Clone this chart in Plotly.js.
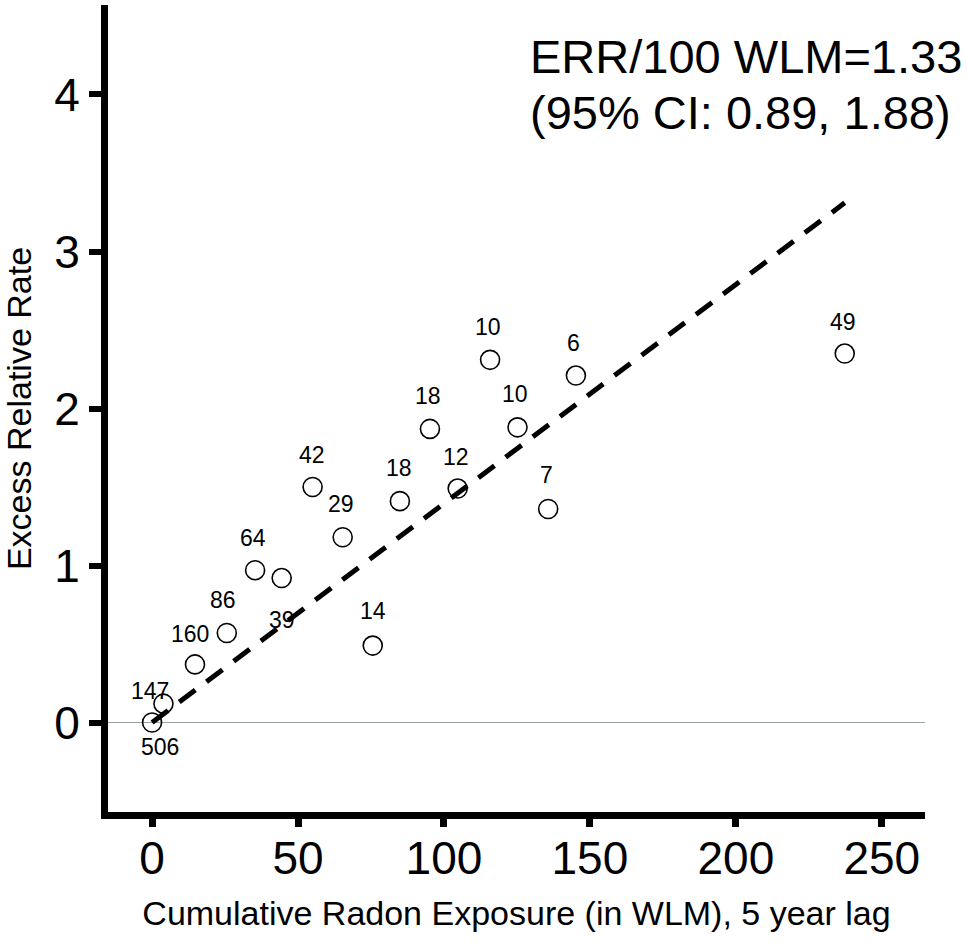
<!DOCTYPE html>
<html>
<head>
<meta charset="utf-8">
<script src="https://cdn.plot.ly/plotly-3.0.1.min.js"></script>
<style>html,body{margin:0;padding:0;background:#fff;}#chart{width:967px;height:942px;}</style>
</head>
<body>
<div id="chart"></div>
<script>
// Cumulative radon exposure (WLM) per category
var exposure = [0, 3.9, 14.7, 25.6, 35.3, 44.4, 55.0, 65.3, 75.6, 84.9, 95.2, 104.7, 115.8, 125.2, 135.7, 145.2, 237.3];
// Excess relative rate per category
var err = [0, 0.12, 0.37, 0.57, 0.97, 0.92, 1.50, 1.18, 0.49, 1.41, 1.87, 1.49, 2.31, 1.88, 1.36, 2.21, 2.35];
// Number of cases per category
var cases = ["506", "147", "160", "86", "64", "39", "42", "29", "14", "18", "18", "12", "10", "10", "7", "6", "49"];
// Fitted linear model line
var fitX = [0, 237.3];
var fitY = [0, 3.31];
var xTicks = [0, 50, 100, 150, 200, 250];
var yTicks = [0, 1, 2, 3, 4];

// label offsets (px) relative to each point
var labelDx = [8, -13, -5, -4, -2, 0, -1, -2, 0, -1, -2, -2, -2, -3, -2, -2, -2];
var labelDy = [-24, 13, 30, 33, 32, -42, 32, 33, 35, 33, 33, 32, 33, 33, 34, 33, 32];

var FONT = "Liberation Sans, Arial, sans-serif";

var traces = [
  {
    x: fitX, y: fitY, type: "scatter", mode: "lines",
    line: {color: "#000", width: 5, dash: "20px,14px"},
    hoverinfo: "skip", showlegend: false
  },
  {
    x: exposure, y: err, type: "scatter", mode: "markers",
    marker: {symbol: "circle-open", size: 19, color: "#000", line: {width: 1.6, color: "#000"}},
    showlegend: false
  }
];

var annotations = cases.map(function (c, i) {
  return {
    x: exposure[i], y: err[i], xref: "x", yref: "y",
    text: c, showarrow: false,
    xshift: labelDx[i], yshift: labelDy[i],
    xanchor: "center", yanchor: "middle",
    font: {family: FONT, size: 23, color: "#000"}
  };
});
annotations.push({
  xref: "paper", yref: "paper", x: 0.514, y: 0.936,
  xanchor: "left", yanchor: "middle", showarrow: false,
  text: "ERR/100 WLM=1.33",
  font: {family: FONT, size: 47, color: "#000"}
});
annotations.push({
  xref: "paper", yref: "paper", x: 0.514, y: 0.867,
  xanchor: "left", yanchor: "middle", showarrow: false,
  text: "(95% CI: 0.89, 1.88)",
  font: {family: FONT, size: 47, color: "#000"}
});

var layout = {
  width: 967, height: 942,
  paper_bgcolor: "#fff", plot_bgcolor: "#fff",
  margin: {l: 108, r: 42, t: 5, b: 130},
  showlegend: false,
  font: {family: FONT, color: "#000"},
  xaxis: {
    range: [-15.1, 264.8],
    tickvals: xTicks, ticktext: xTicks.map(String),
    showgrid: false, zeroline: false,
    showline: true, linecolor: "#000", linewidth: 7,
    ticks: "outside", ticklen: 8, tickwidth: 7, tickcolor: "#000",
    ticklabelstandoff: -8,
    tickfont: {family: FONT, size: 46, color: "#000"},
    title: {text: "Cumulative Radon Exposure (in WLM), 5 year lag", font: {family: FONT, size: 34, color: "#000"}, standoff: 20},
    automargin: false, fixedrange: true
  },
  yaxis: {
    range: [-0.57, 4.57],
    tickvals: yTicks, ticktext: yTicks.map(String),
    showgrid: false,
    zeroline: true, zerolinecolor: "#9aa3a3", zerolinewidth: 1.5,
    showline: true, linecolor: "#000", linewidth: 7,
    ticks: "outside", ticklen: 12, tickwidth: 6, tickcolor: "#000",
    tickfont: {family: FONT, size: 46, color: "#000"},
    title: {text: "Excess Relative Rate", font: {family: FONT, size: 34, color: "#000"}, standoff: 20},
    automargin: false, fixedrange: true
  },
  annotations: annotations
};

Plotly.newPlot("chart", traces, layout, {staticPlot: true, displayModeBar: false});
</script>
</body>
</html>
